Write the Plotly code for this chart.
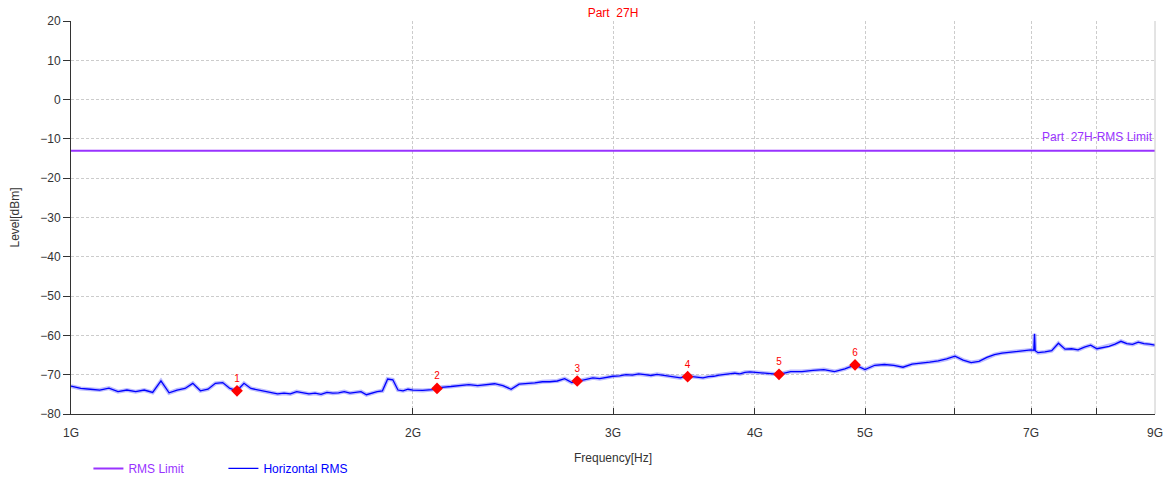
import plotly.graph_objects as go

# ---- data ----
freq_ghz = [
    1.00, 1.02, 1.04, 1.06, 1.08, 1.10, 1.12, 1.14, 1.16, 1.18,
    1.20, 1.22, 1.24, 1.26, 1.28, 1.30, 1.32, 1.34, 1.36, 1.38,
    1.40, 1.42, 1.44, 1.46, 1.48, 1.50, 1.52, 1.54, 1.56, 1.58,
    1.60, 1.62, 1.64, 1.66, 1.68, 1.70, 1.72, 1.74, 1.76, 1.78,
    1.80, 1.82, 1.84, 1.86, 1.88, 1.90, 1.92, 1.94, 1.96, 1.98,
    2.00, 2.04, 2.08, 2.12, 2.16, 2.20, 2.24, 2.28, 2.32, 2.36,
    2.40, 2.44, 2.48, 2.52, 2.56, 2.60, 2.64, 2.68, 2.72, 2.76,
    2.80, 2.84, 2.88, 2.92, 2.96, 3.00, 3.04, 3.08, 3.12, 3.16,
    3.20, 3.24, 3.28, 3.32, 3.36, 3.40, 3.44, 3.48, 3.52, 3.56,
    3.60, 3.64, 3.68, 3.72, 3.76, 3.80, 3.84, 3.88, 3.92, 3.96,
    4.00, 4.10, 4.20, 4.30, 4.40, 4.50, 4.60, 4.70, 4.80, 4.90,
    5.00, 5.10, 5.20, 5.30, 5.40, 5.50, 5.60, 5.70, 5.80, 5.90,
    6.00, 6.10, 6.20, 6.30, 6.40, 6.50, 6.60, 6.70, 6.80, 6.90,
    7.00, 7.04, 7.05, 7.06, 7.10, 7.20, 7.30, 7.40, 7.50, 7.60,
    7.70, 7.80, 7.90, 8.00, 8.10, 8.20, 8.30, 8.40, 8.50, 8.60,
    8.70, 8.80, 8.90, 9.00,
]
level_dbm = [
    -72.9, -73.5, -73.7, -73.9, -73.4, -74.3, -73.9, -74.3, -73.9, -74.5,
    -71.6, -74.6, -73.9, -73.5, -72.2, -74.1, -73.7, -72.2, -72.0, -73.5,
    -74.1, -72.2, -73.5, -73.9, -74.3, -74.5, -74.9, -74.7, -74.9, -74.3,
    -74.6, -74.9, -74.7, -75.0, -74.5, -74.7, -74.6, -74.3, -74.7, -74.5,
    -74.3, -75.1, -74.6, -74.3, -74.1, -71.1, -71.3, -73.9, -74.1, -73.7,
    -73.9, -74.0, -73.8, -73.2, -73.0, -72.8, -72.5, -72.8, -72.5, -72.3,
    -72.8, -73.7, -72.4, -72.3, -72.1, -71.8, -71.8, -71.6, -71.0, -72.0,
    -71.6, -71.2, -70.8, -71.0, -70.6, -70.4, -70.3, -70.0, -70.1, -69.8,
    -70.0, -70.2, -69.9, -70.1, -70.3, -70.6, -70.8, -70.3, -70.5, -70.7,
    -70.8, -70.5, -70.4, -70.1, -69.9, -69.8, -69.6, -69.8, -69.4, -69.3,
    -69.4, -69.5, -69.9, -69.2, -69.2, -68.9, -68.7, -69.2, -68.5, -67.5,
    -68.7, -67.6, -67.4, -67.6, -68.1, -67.3, -67.1, -66.8, -66.5, -66.0,
    -65.3, -66.3, -66.9, -66.6, -65.6, -64.9, -64.5, -64.3, -64.0, -63.9,
    -63.7, -63.8, -59.6, -63.9, -64.4, -64.2, -63.9, -62.0, -63.5, -63.4,
    -63.7, -63.0, -62.5, -63.4, -63.0, -62.8, -62.2, -61.5, -62.1, -62.3,
    -61.7, -62.1, -62.2, -62.5,
]

limit_freq_ghz = [1.0, 9.0]
limit_level_dbm = [-13.0, -13.0]

marker_freq_ghz = [1.40, 2.10, 2.79, 3.49, 4.20, 4.90]
marker_level_dbm = [-74.1, -73.5, -71.6, -70.5, -69.9, -67.5]
marker_labels = ["1", "2", "3", "4", "5", "6"]

tick_ghz = [1, 2, 3, 4, 5, 6, 7, 8, 9]
tick_text = ["1G", "2G", "3G", "4G", "5G", "", "7G", "", "9G"]
y_ticks = [20, 10, 0, -10, -20, -30, -40, -50, -60, -70, -80]

PURPLE = "#9933FF"
BLUE = "#0000FF"
RED = "#FF0000"
FONT = "Liberation Sans, Arial, sans-serif"

to_hz = lambda lst: [v * 1e9 for v in lst]

fig = go.Figure()

fig.add_trace(go.Scatter(
    x=to_hz(limit_freq_ghz), y=limit_level_dbm, mode="lines",
    line=dict(color=PURPLE, width=2),
    name=f"<span style='color:{PURPLE}'>RMS Limit</span>",
))
fig.add_trace(go.Scatter(
    x=to_hz(freq_ghz), y=level_dbm, mode="lines",
    line=dict(color="rgba(60,60,255,0.35)", width=4),
    showlegend=False, hoverinfo="skip",
))
fig.add_trace(go.Scatter(
    x=to_hz(freq_ghz), y=level_dbm, mode="lines",
    line=dict(color=BLUE, width=1.3),
    name=f"<span style='color:{BLUE}'>Horizontal RMS</span>",
))
fig.add_trace(go.Scatter(
    x=to_hz(marker_freq_ghz), y=marker_level_dbm, mode="markers+text",
    marker=dict(symbol="diamond", color=RED, size=9),
    text=marker_labels, textposition="top center",
    textfont=dict(color=RED, size=10, family=FONT),
    showlegend=False,
))

fig.add_annotation(
    x=1, xref="paper", y=-13, yref="y", text="Part  27H-RMS Limit",
    showarrow=False, xanchor="right", yanchor="bottom", yshift=5,
    font=dict(color=PURPLE, size=12, family=FONT),
)
fig.add_annotation(
    x=0.5, xref="paper", y=-(458 - 414) / 393, yref="paper", text="Frequency[Hz]",
    showarrow=False, xanchor="center", yanchor="middle",
    font=dict(color="#333333", size=12, family=FONT),
)
fig.add_shape(type="line", xref="paper", yref="paper", x0=1, x1=1, y0=0, y1=1,
              line=dict(color="#C8C8C8", width=1))

fig.update_layout(
    width=1168, height=477,
    margin=dict(l=71, r=13, t=21, b=63, autoexpand=False),
    paper_bgcolor="white", plot_bgcolor="white",
    font=dict(family=FONT, size=12, color="#333333"),
    title=dict(text="Part  27H", x=0.5, xref="paper", y=1 - 13 / 477, yref="container",
               yanchor="middle", font=dict(color=RED, size=12, family=FONT)),
    legend=dict(orientation="h", xref="container", yref="container",
                x=0.0757, y=0.018, xanchor="left", yanchor="middle",
                entrywidth=90, entrywidthmode="pixels",
                font=dict(size=12, family=FONT), bgcolor="rgba(0,0,0,0)"),
    showlegend=True,
)

fig.update_xaxes(
    type="log", range=[9, 9.954243], automargin=True,
    tickvals=to_hz(tick_ghz), ticktext=tick_text,
    ticks="inside", ticklen=6, tickcolor="#333333",
    ticklabelstandoff=8,
    showline=True, linecolor="#333333", linewidth=1,
    showgrid=True, gridcolor="#CCCCCC", griddash="3px,2px", gridwidth=1,
    zeroline=False,
    tickfont=dict(size=12, color="#333333"),
)
fig.update_yaxes(
    range=[-80, 20], tickvals=y_ticks, automargin=True,
    ticks="outside", ticklen=7, tickcolor="#333333",
    showline=True, linecolor="#333333", linewidth=1,
    showgrid=True, gridcolor="#CCCCCC", griddash="3px,2px", gridwidth=1,
    zeroline=False,
    title=dict(text="Level[dBm]", standoff=18, font=dict(size=12)),
    tickfont=dict(size=12, color="#333333"),
)

fig.write_html(
    "out.html",
    config={"displayModeBar": False},
    post_script="document.body.style.margin='0px';document.body.style.overflow='hidden';",
)
